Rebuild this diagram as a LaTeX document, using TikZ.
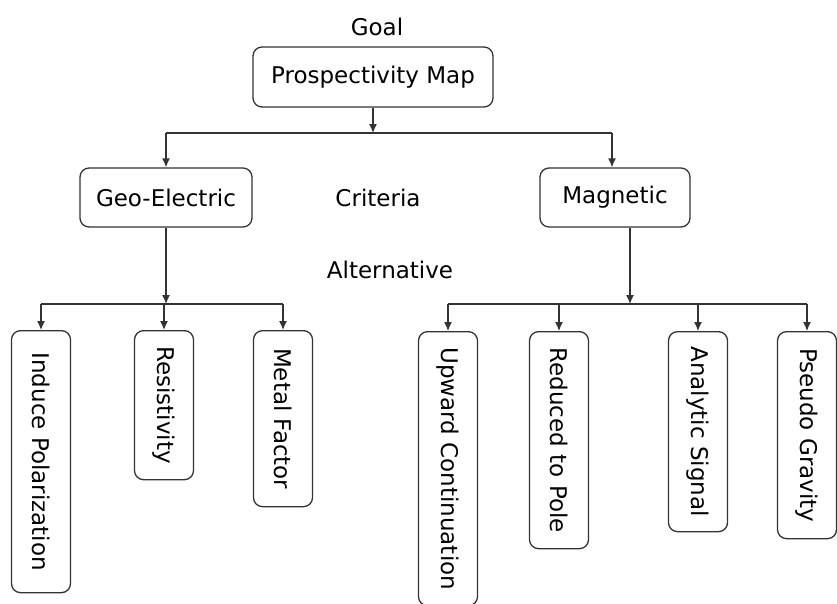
\documentclass[tikz,border=0pt]{standalone}
\usepackage{fontspec}
\setmainfont{DejaVu Sans}
\usetikzlibrary{arrows.meta,positioning}

\begin{document}
\begin{tikzpicture}[
            x=1pt, y=-1pt,
            every node/.style={font=\fontsize{23}{28}\selectfont, color=black},
            box/.style={draw=black!80, line width=1.3pt, rounded corners=9pt, inner sep=0pt},
            alt box/.style={box, rotate=-90, anchor=west, minimum height=59pt},
            bar/.style={line width=1.3pt, draw=black!80},
            pile/.style={bar, -{Latex[length=9pt,width=8pt]}}
            ]
            \useasboundingbox (0,0) rectangle (837,603);
            \clip (0,0) rectangle (837,603);

            % goal
            \node (goal) at (377,27) {Goal};
            \node[box, minimum width=240pt, minimum height=60pt] (map) at (373,77) {Prospectivity Map};

            % criteria
            \node[box, minimum width=172pt, minimum height=59pt] (geo) at (166,197.5) {Geo-Electric};
            \node (crit) at (378,198) {Criteria};
            \node[box, minimum width=150pt, minimum height=59pt] (mag) at (615,197.5) {Magnetic};
            \node (alt) at (390,270) {Alternative};

            % alternatives
            \node[alt box, minimum width=262pt] (ip)  at (41,330)  {Induce Polarization};
            \node[alt box, minimum width=149pt] (res) at (164,330) {Resistivity};
            \node[alt box, minimum width=176pt] (mf)  at (283,330) {Metal Factor};
            \node[alt box, minimum width=274pt] (uc)  at (448,331) {Upward Continuation};
            \node[alt box, minimum width=217pt] (rp)  at (559,331) {Reduced to Pole};
            \node[alt box, minimum width=200pt] (as)  at (698,331) {Analytic Signal};
            \node[alt box, minimum width=207pt] (pg)  at (807,331) {Pseudo Gravity};

            % connectors
            \coordinate (top bar) at (0,133);
            \coordinate (low bar) at (0,304);
            \coordinate (mag in)  at ([xshift=-3pt]mag.north);
            \coordinate (mag out) at ([xshift=15pt]mag.south);

            \draw[pile] (map.south) -- (map.south |- top bar);
            \draw[bar] (geo.north |- top bar) -- (mag in |- top bar);
            \draw[pile] (geo.north |- top bar) -- (geo.north);
            \draw[pile] (mag in |- top bar) -- (mag in);

            \draw[pile] (geo.south) -- (geo.south |- low bar);
            \draw[bar] (ip.west |- low bar) -- (mf.west |- low bar);
            \foreach \n in {ip,res,mf}
                \draw[pile] (\n.west |- low bar) -- (\n.west);

            \draw[pile] (mag out) -- (mag out |- low bar);
            \draw[bar] (uc.west |- low bar) -- (pg.west |- low bar);
            \foreach \n in {uc,rp,as,pg}
                \draw[pile] (\n.west |- low bar) -- (\n.west);

        \end{tikzpicture}
\end{document}
